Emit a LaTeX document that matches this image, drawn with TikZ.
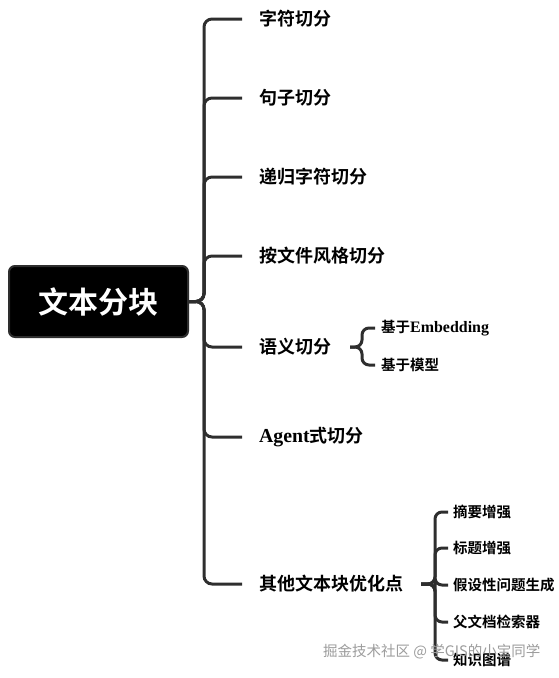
\documentclass[tikz,border=0pt]{standalone}
\usepackage{fontspec}
\setmainfont{Liberation Serif}[Scale=1.1]
\newfontfamily\cjk{Noto Sans CJK SC}[BoldFont={Noto Sans CJK SC Bold}]
\newcommand\zh[1]{{\cjk #1}}
\definecolor{linec}{HTML}{2E2E2E}
\definecolor{wmark}{HTML}{9C9C9C}
\begin{document}
\begin{tikzpicture}[x=1pt,y=-1pt,
  conn/.style={draw=linec, line width=3pt, rounded corners=8pt},
  subconn/.style={draw=linec, line width=3pt, rounded corners=7pt},
  rootbox/.style={fill=black, draw=linec, line width=2pt, rounded corners=6pt,
    minimum width=179pt, minimum height=71pt, inner sep=0pt, text=white,
    font=\cjk\bfseries\fontsize{30}{32}\selectfont},
  lvone/.style={anchor=west, inner sep=0pt, text=black, font=\bfseries\fontsize{18}{20}\selectfont},
  lvtwo/.style={anchor=west, inner sep=0pt, text=black, font=\bfseries\fontsize{14.5}{16}\selectfont}]
\useasboundingbox (0,0) rectangle (559,678);

\node[rootbox] (root) at (98.5,301.5) {文本分块};
\coordinate (trunk) at (204,301.5);

\node[lvone] (a1) at (259,19) {\zh{字符切分}};
\node[lvone] (a2) at (259,98) {\zh{句子切分}};
\node[lvone] (a3) at (259,177) {\zh{递归字符切分}};
\node[lvone] (a4) at (259,256) {\zh{按文件风格切分}};
\node[lvone] (a5) at (259,347) {\zh{语义切分}};
\node[lvone] (a6) at (259,437) {Agent\zh{式切分}};
\node[lvone] (a7) at (259,584) {\zh{其他文本块优化点}};

\foreach \n in {a1,a2,a3,a4,a5,a6,a7}
  \draw[conn, shorten >=17pt] (root.east) -- (trunk) |- (\n.west);

% semantic sub-branches
\coordinate (s5o) at (350,347);
\coordinate (s5t) at (362,347);
\node[lvtwo] (b1) at (381,328) {\zh{基于}Embedding};
\node[lvtwo] (b2) at (381,365) {\zh{基于模型}};
\foreach \n in {b1,b2}
  \draw[subconn, shorten >=6pt] (s5o) -- (s5t) |- (\n.west);

% other optimisation sub-branches
\coordinate (s7o) at (421,584);
\coordinate (s7t) at (435,584);
\node[lvtwo] (c1) at (453,512) {\zh{摘要增强}};
\node[lvtwo] (c2) at (453,548) {\zh{标题增强}};
\node[lvtwo] (c3) at (453,585) {\zh{假设性问题生成}};
\node[lvtwo] (c4) at (453,622) {\zh{父文档检索器}};
\node[lvtwo] (c5) at (453,660) {\zh{知识图谱}};
\foreach \n in {c1,c2,c3,c4,c5}
  \draw[subconn, shorten >=5pt] (s7o) -- (s7t) |- (\n.west);

\node[anchor=west, inner sep=0pt, text=wmark, font=\cjk\fontsize{14.5}{16}\selectfont]
  (wm) at (323,652) {掘金技术社区 @ 学GIS的小宝同学};
\end{tikzpicture}
\end{document}
